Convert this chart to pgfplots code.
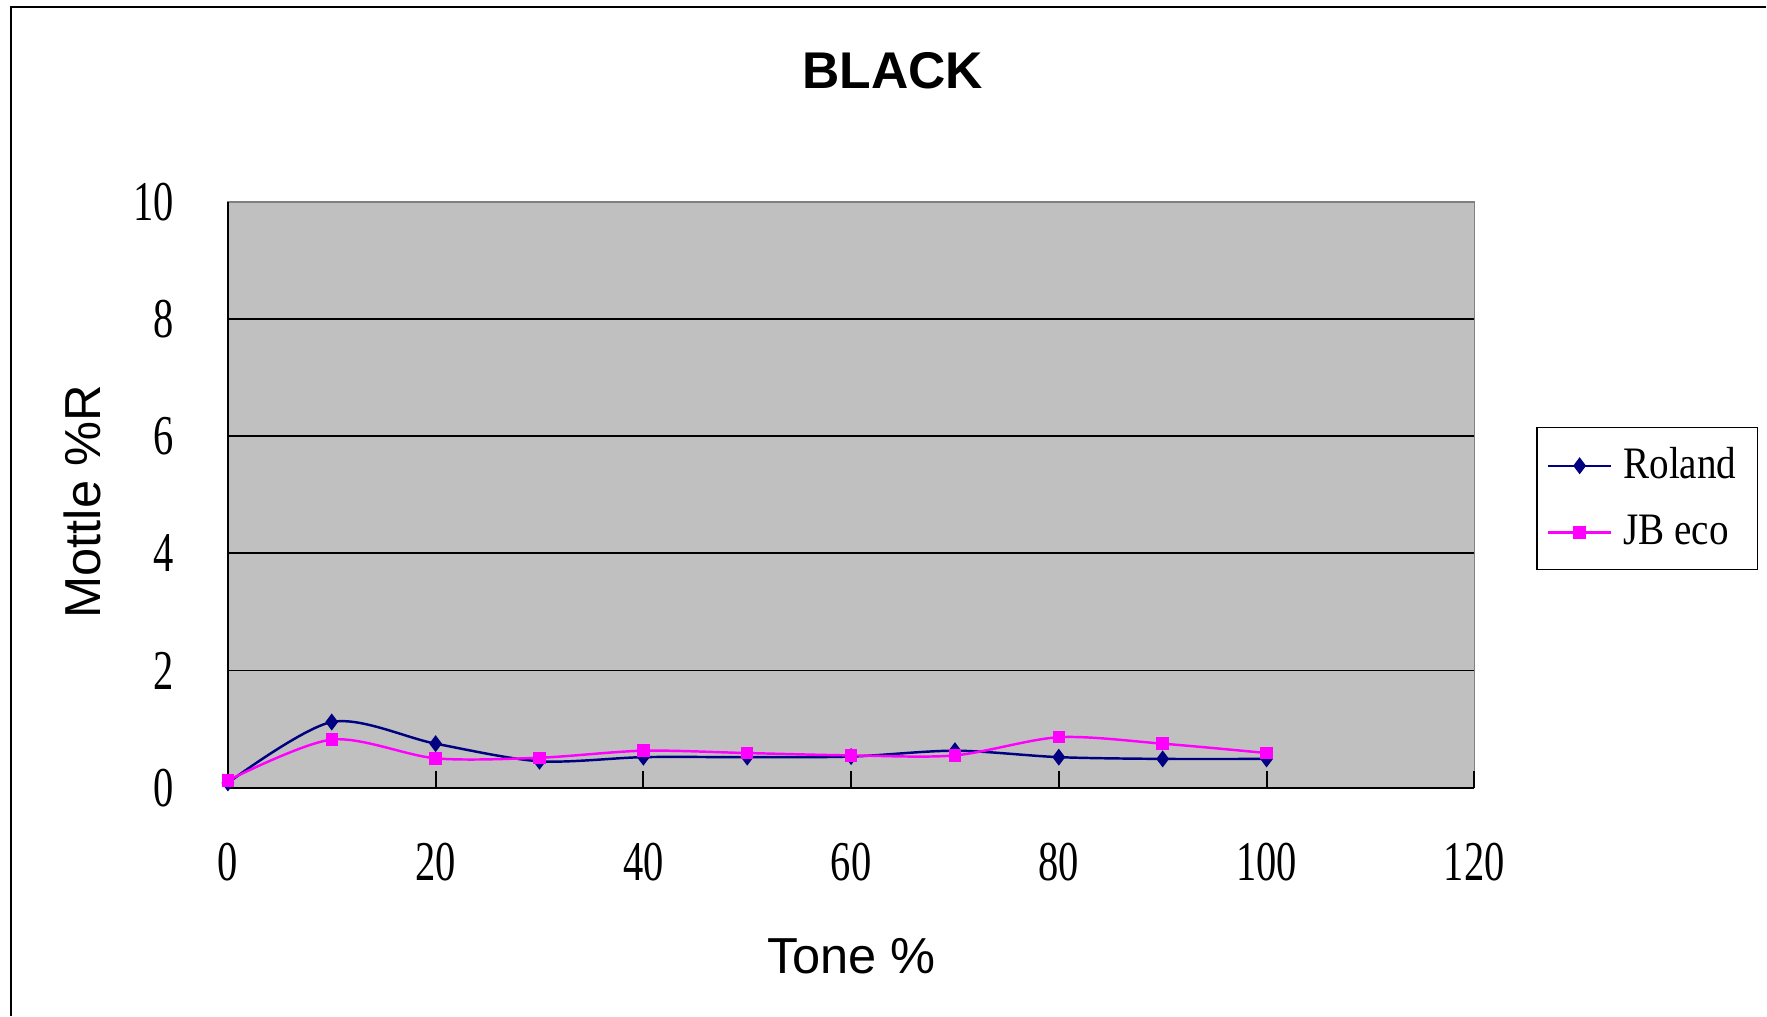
\documentclass[border=0pt]{standalone}
\usepackage{fontspec}
\setmainfont{Liberation Serif}
\newfontfamily\tickfont[FakeStretch=0.72]{Liberation Serif}
\newfontfamily\legfont[FakeStretch=0.87]{Liberation Serif}
\newfontfamily\labfont{Liberation Sans}
\usepackage{pgfplots}
\pgfplotsset{compat=1.18}
\definecolor{bgray}{HTML}{C0C0C0}
\definecolor{navy}{HTML}{000080}
\definecolor{mag}{HTML}{FF00FF}
\begin{document}
\begin{tikzpicture}
\path (0,0) rectangle (176.7mm,101.6mm);
\draw[black, line width=0.5pt] (1.1mm,0mm) -- (1.1mm,100.9mm) -- (176.7mm,100.9mm);
\begin{axis}[
  at={(22.8mm,22.8mm)}, anchor=south west,
  width=124.7mm, height=58.6mm, scale only axis,
  xmin=0, xmax=120, ymin=0, ymax=10,
  xtick={0,20,...,120}, ytick={0,2,...,10},
  xtick pos=lower, ytick pos=left,
  axis background/.style={fill=bgray},
  axis line style={draw=black!50},
  ymajorgrids, grid style={black, line width=0.5pt},
  tick align=inside,
  major tick length=1.5mm,
  xtick style={draw=none},
  ytick style={draw=none},
  /pgf/number format/assume math mode=true,
  xticklabel style={font=\tickfont\fontsize{16}{16}\selectfont, anchor=center, yshift=-7.5mm},
  yticklabel style={font=\tickfont\fontsize{16}{16}\selectfont, anchor=east, inner sep=0pt, xshift=-5.3mm},
  clip=false,
  legend style={at={(1.0497,0.616)}, anchor=north west, draw=black, fill=white,
    font=\legfont\fontsize{12.8}{12.8}\selectfont, row sep=1.7mm, inner xsep=1.0mm, inner ysep=1.3mm,
    nodes={inner xsep=1.1mm}},
  legend cell align=left,
  legend image code/.code={\draw[mark repeat=2,mark phase=2,#1] plot coordinates {(0cm,0cm) (0.315cm,0cm) (0.63cm,0cm)};},
]
\addplot[navy, line width=0.7pt, smooth, tension=0.5, mark=diamond*, mark size=0.65mm, mark options={solid, fill=navy, draw=navy}]
coordinates {(0,0.08) (10,1.12) (20,0.75) (30,0.45) (40,0.52) (50,0.52) (60,0.53) (70,0.63) (80,0.52) (90,0.49) (100,0.49)};
\addlegendentry{Roland}
\addplot[mag, line width=0.7pt, smooth, tension=0.5, mark=square*, mark size=0.5mm, mark options={solid, fill=mag, draw=mag}]
coordinates {(0,0.12) (10,0.82) (20,0.50) (30,0.51) (40,0.63) (50,0.59) (60,0.55) (70,0.55) (80,0.86) (90,0.75) (100,0.59)};
\addlegendentry{JB eco}
\draw[black, line width=0.6pt] (rel axis cs:0,1) -- (rel axis cs:0,0) -- (rel axis cs:1,0);
\pgfplotsinvokeforeach{20,40,60,80,100,120}{\draw[black, line width=0.6pt] (axis cs:#1,0) -- (axis cs:#1,0.28);}
\end{axis}
\node[font=\labfont\bfseries\fontsize{14.7}{14.7}\selectfont, anchor=center] at (89.3mm,94.5mm) {BLACK};
\node[font=\labfont\fontsize{14.4}{14.4}\selectfont, anchor=base, inner sep=0pt] at (85.2mm,4.2mm) {Tone \%};
\node[font=\labfont\fontsize{14.4}{14.4}\selectfont, anchor=base, inner sep=0pt, rotate=90] at (10.1mm,51.4mm) {Mottle \%R};
\end{tikzpicture}
\end{document}
